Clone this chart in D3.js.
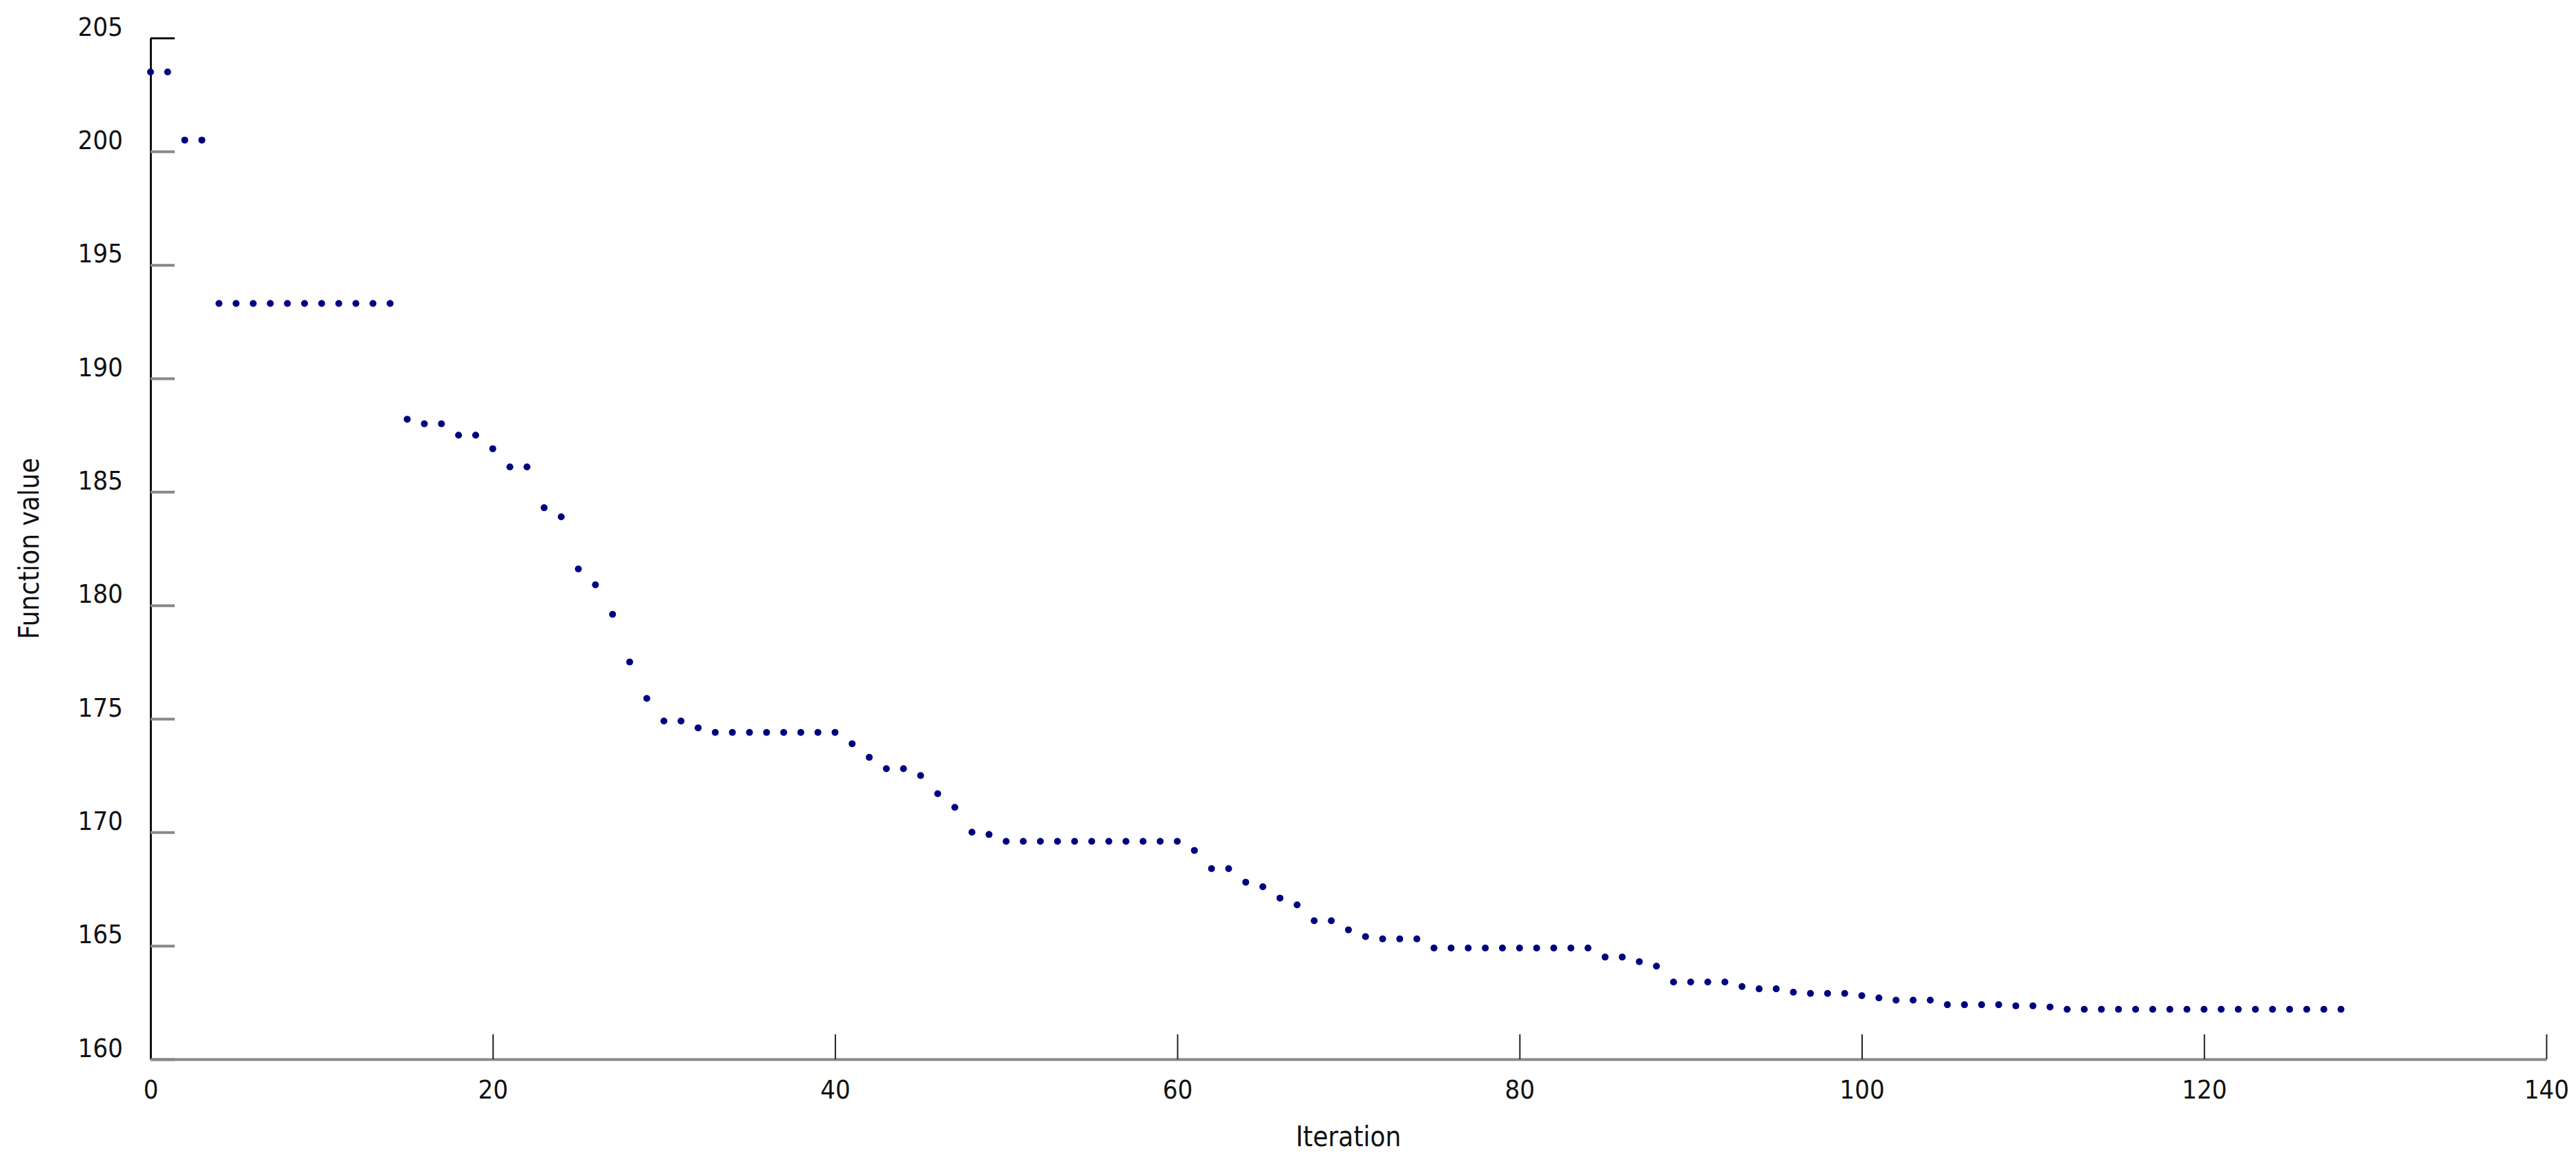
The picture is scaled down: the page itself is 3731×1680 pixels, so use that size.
<!DOCTYPE html>
<html>
<head>
<meta charset="utf-8">
<script src="https://cdn.jsdelivr.net/npm/d3@7"></script>
<style>
  body { margin: 0; background: #fff; }
  text { font-family: "DejaVu Sans Condensed", "DejaVu Sans", sans-serif; font-stretch: condensed; }
</style>
</head>
<body>
<svg id="chart" width="3731" height="1680"></svg>
<script>
// Function value per iteration
const values = [
  203.5, 203.5, 200.5, 200.5,
  193.3, 193.3, 193.3, 193.3, 193.3, 193.3, 193.3, 193.3, 193.3, 193.3, 193.3,
  188.2, 188.0, 188.0, 187.5, 187.5, 186.9, 186.1, 186.1, 184.3, 183.9,
  181.6, 180.9, 179.6, 177.5, 175.9, 174.9, 174.9, 174.6,
  174.4, 174.4, 174.4, 174.4, 174.4, 174.4, 174.4, 174.4,
  173.9, 173.3, 172.8, 172.8, 172.5, 171.7, 171.1, 170.0, 169.9,
  169.6, 169.6, 169.6, 169.6, 169.6, 169.6, 169.6, 169.6, 169.6, 169.6, 169.6,
  169.2, 168.4, 168.4, 167.8, 167.6, 167.1, 166.8, 166.1, 166.1, 165.7, 165.4,
  165.3, 165.3, 165.3,
  164.9, 164.9, 164.9, 164.9, 164.9, 164.9, 164.9, 164.9, 164.9, 164.9,
  164.5, 164.5, 164.3, 164.1,
  163.4, 163.4, 163.4, 163.4, 163.2, 163.1, 163.1,
  162.95, 162.9, 162.9, 162.9, 162.8, 162.7, 162.6, 162.6, 162.6,
  162.4, 162.4, 162.4, 162.4, 162.35, 162.35, 162.3,
  162.2, 162.2, 162.2, 162.2, 162.2, 162.2, 162.2, 162.2, 162.2,
  162.2, 162.2, 162.2, 162.2, 162.2, 162.2, 162.2, 162.2
];
const xTicks = [0, 20, 40, 60, 80, 100, 120, 140];
const yTicks = [160, 165, 170, 175, 180, 185, 190, 195, 200, 205];

const svg = d3.select('#chart');
const mLeft = 218, mRight = 3688, mTop = 55, mBottom = 1534;

const x = d3.scaleLinear().domain([0, 140]).range([mLeft, mRight]);
const y = d3.scaleLinear().domain([160, 205]).range([mBottom, mTop]);

// X axis: gray spine, ticks pointing up
const gx = svg.append('g')
    .attr('transform', `translate(0,${mBottom})`)
    .call(d3.axisBottom(x).tickValues(xTicks).tickSize(0).tickPadding(30));
gx.select('.domain').attr('stroke', '#888').attr('stroke-width', 4);
gx.selectAll('.tick line').attr('y2', -36).attr('stroke', '#222').attr('stroke-width', 2);
gx.selectAll('.tick text').attr('font-size', 38).attr('fill', '#111');

// Y axis: black spine, gray ticks pointing right
const gy = svg.append('g')
    .attr('transform', `translate(${mLeft},0)`)
    .call(d3.axisLeft(y).tickValues(yTicks).tickSize(0).tickPadding(40));
gy.select('.domain').attr('stroke', '#111').attr('stroke-width', 3);
gy.selectAll('.tick line').attr('x2', 35).attr('stroke', '#888').attr('stroke-width', 4);
gy.selectAll('.tick text').attr('font-size', 38).attr('fill', '#111').attr('dy', '-0.1em');
gy.selectAll('.tick').filter(d => d === 205).select('line').attr('stroke', '#111').attr('stroke-width', 3);

// Points
svg.append('g')
  .selectAll('circle')
  .data(values)
  .join('circle')
    .attr('cx', (d, i) => x(i))
    .attr('cy', d => y(d))
    .attr('r', 5)
    .attr('fill', '#000080');

// Axis labels
svg.append('text')
    .attr('x', (mLeft + mRight) / 2).attr('y', 1660)
    .attr('text-anchor', 'middle').attr('font-size', 40).attr('fill', '#111')
    .text('Iteration');
svg.append('text')
    .attr('transform', `translate(56,${(mTop + mBottom) / 2}) rotate(-90)`)
    .attr('text-anchor', 'middle').attr('font-size', 40).attr('fill', '#111')
    .text('Function value');
</script>
</body>
</html>
